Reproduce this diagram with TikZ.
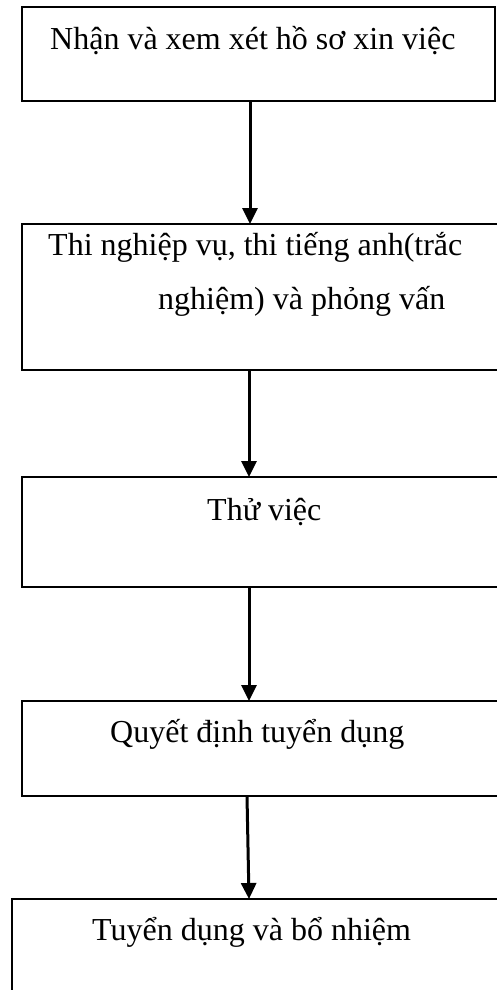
\documentclass[tikz,border=0pt]{standalone}
\usepackage{fontspec}
\setmainfont{Liberation Serif}
\usetikzlibrary{arrows.meta}
\begin{document}
\begin{tikzpicture}[x=1pt,y=-1pt,
  stepbox/.style={draw=black, line width=2.2pt, fill=none},
  label/.style={anchor=base west, inner sep=0pt, align=left,
    font=\fontsize{32}{54}\selectfont},
  flow/.style={line width=3pt, -{Triangle[length=16pt,width=15pt]}}]
\path[use as bounding box, clip] (0,0) rectangle (497,990);

% process boxes (the lower ones run past the right and bottom edges)
\draw[stepbox] (22,7) rectangle (495,101);
\draw[stepbox] (22,224) rectangle (520,370);
\draw[stepbox] (22,477) rectangle (520,587);
\draw[stepbox] (22,701) rectangle (520,796);
\draw[stepbox] (12,899) rectangle (520,1020);

% step labels (a multi-line label is placed by its last baseline)
\node[label] (t1) at (50,49) {Nhận và xem xét hồ sơ xin việc};
\node[label] (t2) at (48,309) {Thi nghiệp vụ, thi tiếng anh(trắc\\\hspace*{110pt}nghiệm) và phỏng vấn};
\node[label] (t3) at (207,520) {Thử việc};
\node[label] (t4) at (110,742) {Quyết định tuyển dụng};
\node[label] (t5) at (92,940) {Tuyển dụng và bổ nhiệm};

% connector end points on the box edges
\coordinate (a1s) at (250,101);
\coordinate (a1e) at (250,224);
\coordinate (a2s) at (249,370);
\coordinate (a2e) at (249,477);
\coordinate (a3s) at (249,587);
\coordinate (a3e) at (249,701);
\coordinate (a4s) at (247,796);
\coordinate (a4e) at (249,899);

\draw[flow] (a1s) -- (a1e);
\draw[flow] (a2s) -- (a2e);
\draw[flow] (a3s) -- (a3e);
\draw[flow] (a4s) -- (a4e);
\end{tikzpicture}
\end{document}
